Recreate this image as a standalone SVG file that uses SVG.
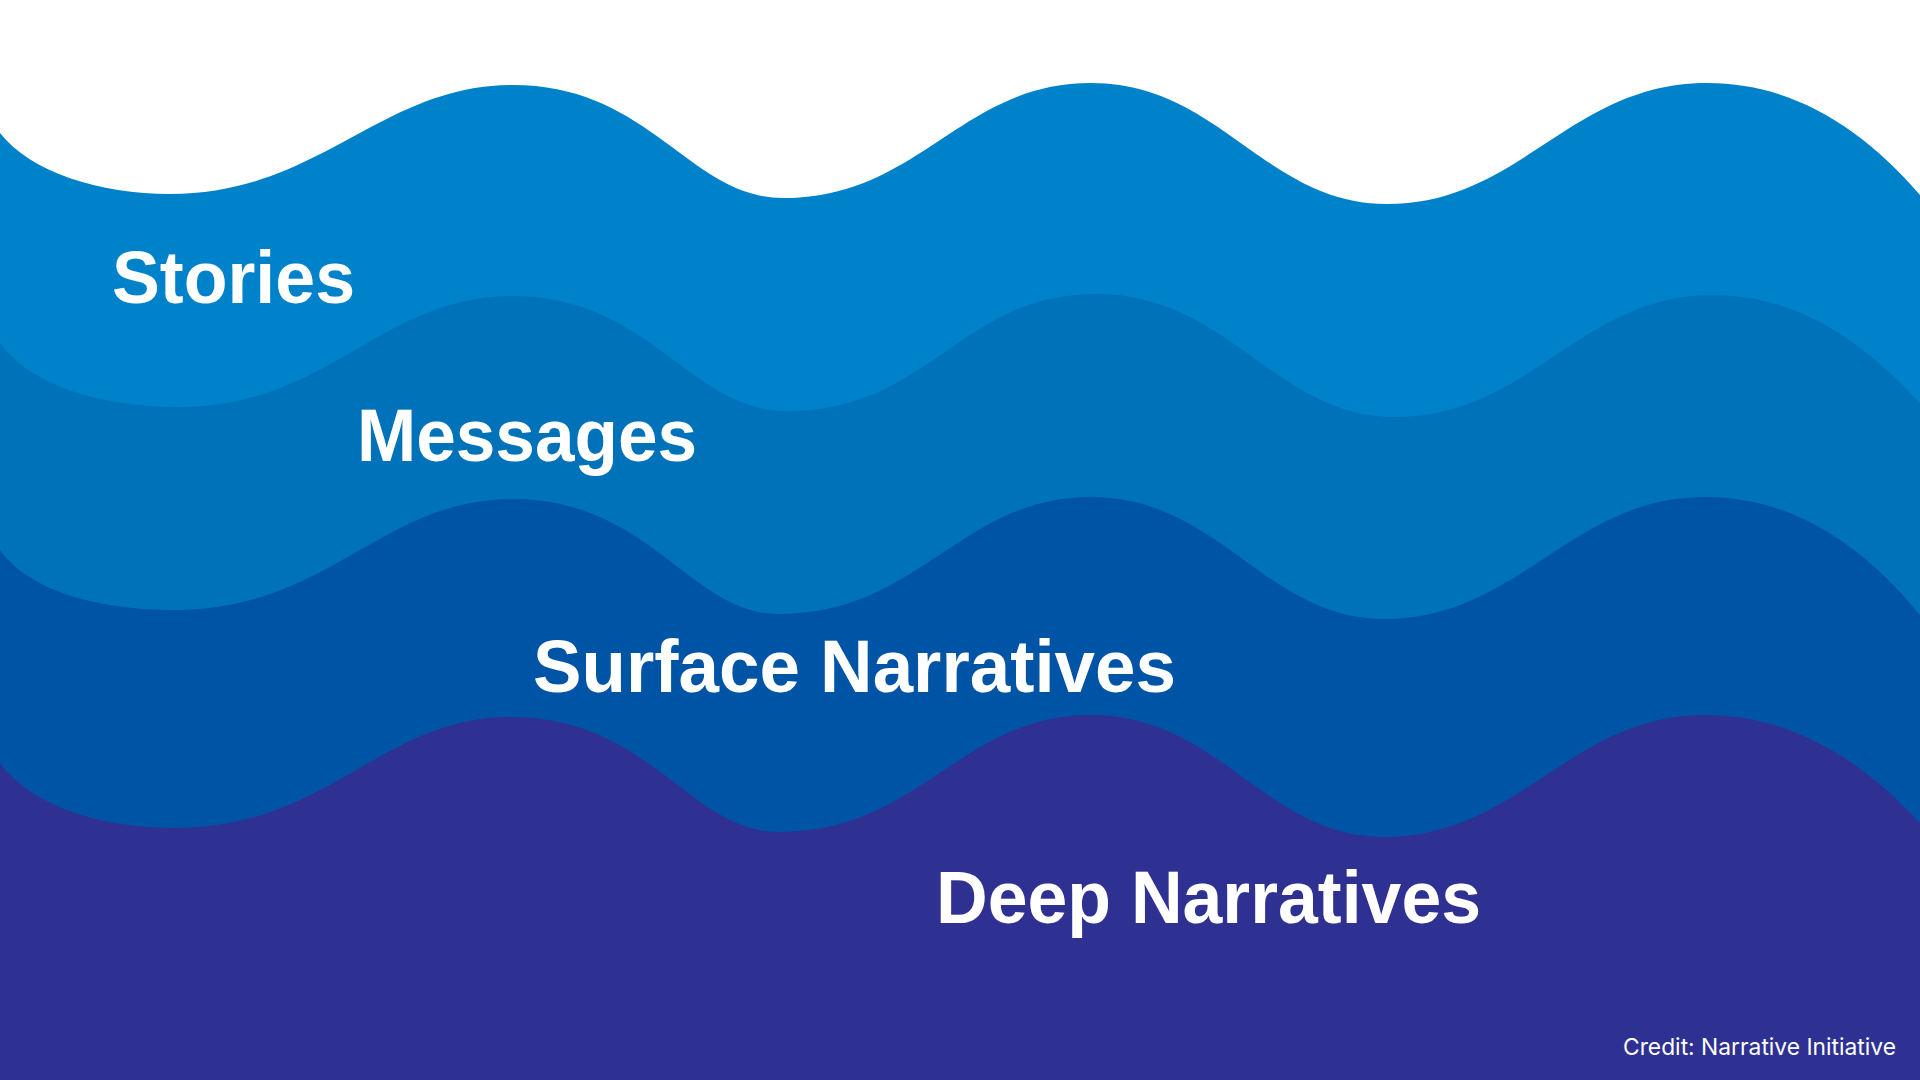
<svg xmlns="http://www.w3.org/2000/svg" width="1920" height="1080" viewBox="0 0 1920 1080">
  <style>
    .label { font-family: "Liberation Sans Narrow", "Liberation Sans", Arial, sans-serif; font-weight: bold; font-size: 75px; fill: #ffffff; }
    .credit { font-family: "Inter", "Liberation Sans", Arial, sans-serif; font-size: 23px; fill: #ffffff; }
  </style>
  <rect x="0" y="0" width="1920" height="1080" fill="#ffffff"/>
  <g id="wave-stories">
    <path fill="#0082CA" d="M0,133 C30,172 100,194 170,194 C320,194 380,85 513,85 C650,85 690,198 783,198 C920,198 960,83 1091,83 C1220,83 1265,204 1387,204 C1520,204 1570,83 1707,83 C1790,83 1860,125 1920,195 L1920,1080 L0,1080 Z"/>
  </g>
  <g id="wave-messages">
    <path fill="#0072BA" d="M0,343 C30,385 100,407 179,407 C330,407 380,296 513,296 C650,296 690,411 787,411 C930,411 960,294 1096,294 C1230,294 1275,417 1395,417 C1530,417 1580,295 1712,295 C1795,295 1860,338 1920,403 L1920,1080 L0,1080 Z"/>
  </g>
  <g id="wave-surface">
    <path fill="#0054A6" d="M0,550 C30,592 100,610 174,610 C330,610 380,499 513,499 C650,499 690,614 779,614 C920,614 960,497 1091,497 C1220,497 1265,619 1384,619 C1520,619 1570,497 1705,497 C1790,497 1860,542 1920,615 L1920,1080 L0,1080 Z"/>
  </g>
  <g id="wave-deep">
    <path fill="#2E3192" d="M0,763 C30,805 100,828 174,828 C330,828 380,717 511,717 C650,717 690,832 779,832 C920,832 960,715 1091,715 C1220,715 1265,837 1384,837 C1520,837 1570,715 1705,715 C1790,715 1860,758 1920,823 L1920,1080 L0,1080 Z"/>
  </g>
  <g id="labels">
    <text class="label" x="112" y="303" textLength="243" lengthAdjust="spacingAndGlyphs">Stories</text>
    <text class="label" x="357" y="461" textLength="340" lengthAdjust="spacingAndGlyphs">Messages</text>
    <text class="label" x="533" y="692" textLength="643" lengthAdjust="spacingAndGlyphs">Surface Narratives</text>
    <text class="label" x="936" y="923" textLength="545" lengthAdjust="spacingAndGlyphs">Deep Narratives</text>
    <text class="credit" x="1623" y="1055" textLength="273" lengthAdjust="spacingAndGlyphs">Credit: Narrative Initiative</text>
  </g>
</svg>
